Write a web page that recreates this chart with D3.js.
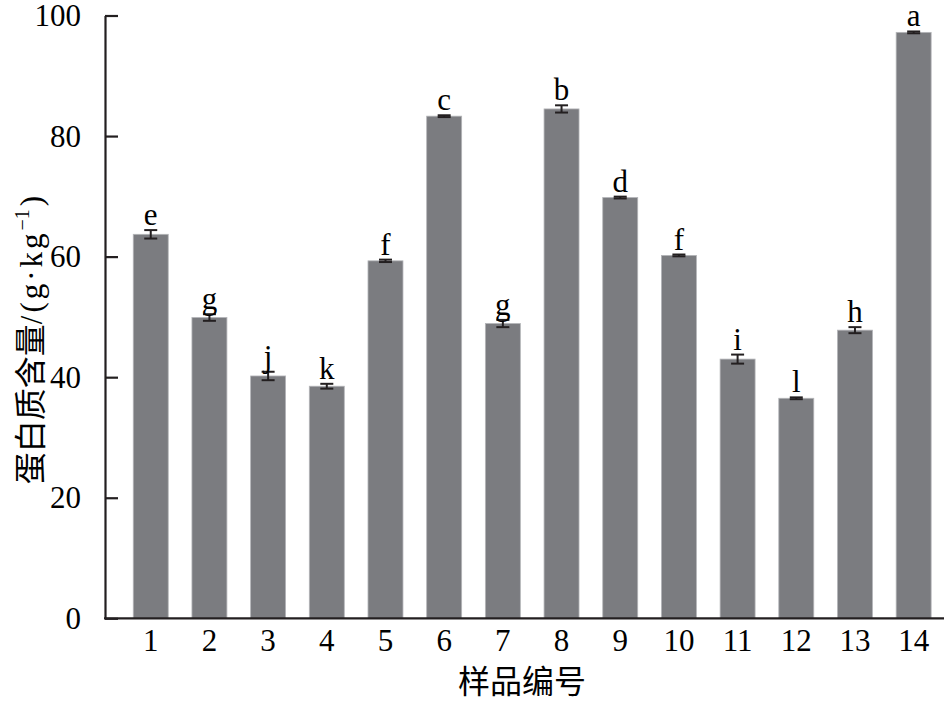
<!DOCTYPE html>
<html><head><meta charset="utf-8">
<script src="https://cdn.jsdelivr.net/npm/d3@7"></script>
<style>body{margin:0;background:#fff}</style>
</head><body>
<svg id="c" width="944" height="703"></svg>
<script>
const categories = ["1","2","3","4","5","6","7","8","9","10","11","12","13","14"];
const values = [63.7, 49.9, 40.2, 38.5, 59.3, 83.3, 48.9, 84.5, 69.8, 60.2, 43.0, 36.5, 47.8, 97.2];
const errors = [0.7, 0.55, 0.7, 0.4, 0.2, 0.15, 0.6, 0.6, 0.15, 0.15, 0.75, 0.15, 0.5, 0.15];
const letters = ["e","g","j","k","f","c","g","b","d","f","i","l","h","a"];
const yTicks = [0, 20, 40, 60, 80, 100];

const svg = d3.select("#c");
const serif = "'Liberation Serif','Times New Roman',serif";
const cjk = "'Noto Sans CJK SC','Noto Sans',sans-serif";
const axisColor = "#231f20";

const y = d3.scaleLinear().domain([0, 100]).range([618.3, 15.5]);
const x = d3.scaleBand().domain(categories).range([121.4, 943]).paddingInner(0.404).paddingOuter(0.202);

// bars
svg.selectAll("rect.bar").data(values).join("rect")
  .attr("class", "bar")
  .attr("x", (d, i) => x(categories[i]))
  .attr("width", x.bandwidth())
  .attr("y", d => y(d))
  .attr("height", d => y(0) - y(d))
  .attr("fill", "#7b7c80")
  .attr("stroke", "#b4b5b8").attr("stroke-width", 0.8);

// error bars
const eg = svg.append("g").attr("stroke", axisColor).attr("stroke-width", 2);
values.forEach((v, i) => {
  const cx = x(categories[i]) + x.bandwidth() / 2;
  const e = errors[i];
  eg.append("line").attr("x1", cx).attr("x2", cx).attr("y1", y(v - e)).attr("y2", y(v + e));
  eg.append("line").attr("x1", cx - 6.5).attr("x2", cx + 6.5).attr("y1", y(v - e)).attr("y2", y(v - e));
  eg.append("line").attr("x1", cx - 6.5).attr("x2", cx + 6.5).attr("y1", y(v + e)).attr("y2", y(v + e));
});

// letters
svg.selectAll("text.let").data(letters).join("text")
  .attr("class", "let")
  .attr("x", (d, i) => x(categories[i]) + x.bandwidth() / 2)
  .attr("y", (d, i) => y(values[i] + errors[i]) - 5)
  .attr("text-anchor", "middle")
  .attr("font-family", serif).attr("font-size", 31).attr("fill", "#000")
  .text(d => d);

// y axis
const yAxis = d3.axisLeft(y).tickValues(yTicks).tickSize(-13).tickPadding(24).tickSizeOuter(0);
const gy = svg.append("g").attr("transform", "translate(105,0)").call(yAxis);
gy.select(".domain").attr("stroke", axisColor).attr("stroke-width", 2.2);
gy.selectAll(".tick line").attr("stroke", axisColor).attr("stroke-width", 2.2);
gy.selectAll(".tick text").attr("font-family", serif).attr("font-size", 31).attr("fill", "#000").attr("dy", "0.33em");

// x axis
const xAxis = d3.axisBottom(x).tickSize(0).tickPadding(11).tickSizeOuter(0);
const gx = svg.append("g").attr("transform", "translate(0,618.3)").call(xAxis);
gx.select(".domain").remove();
gx.append("line").attr("x1", 104).attr("x2", 944).attr("y1", 0).attr("y2", 0).attr("stroke", axisColor).attr("stroke-width", 2.2);
gx.selectAll(".tick text").attr("font-family", serif).attr("font-size", 31).attr("fill", "#000");

// axis titles
svg.append("text").attr("x", 522).attr("y", 693).attr("text-anchor", "middle")
  .attr("font-family", cjk).attr("font-size", 32).attr("fill", "#000").text("样品编号");

const yt = svg.append("text").attr("transform", "translate(42,340) rotate(-90)")
  .attr("text-anchor", "middle").attr("font-size", 32).attr("fill", "#000");
yt.append("tspan").attr("font-family", cjk).text("蛋白质含量");
yt.append("tspan").attr("font-family", serif).attr("font-size", 31).attr("letter-spacing", 3).text("/(g·kg");
yt.append("tspan").attr("font-family", serif).attr("font-size", 20).attr("dy", -13).text("−1");
yt.append("tspan").attr("font-family", serif).attr("font-size", 31).attr("dx", 3).attr("dy", 13).text(")");
</script>
</body></html>
